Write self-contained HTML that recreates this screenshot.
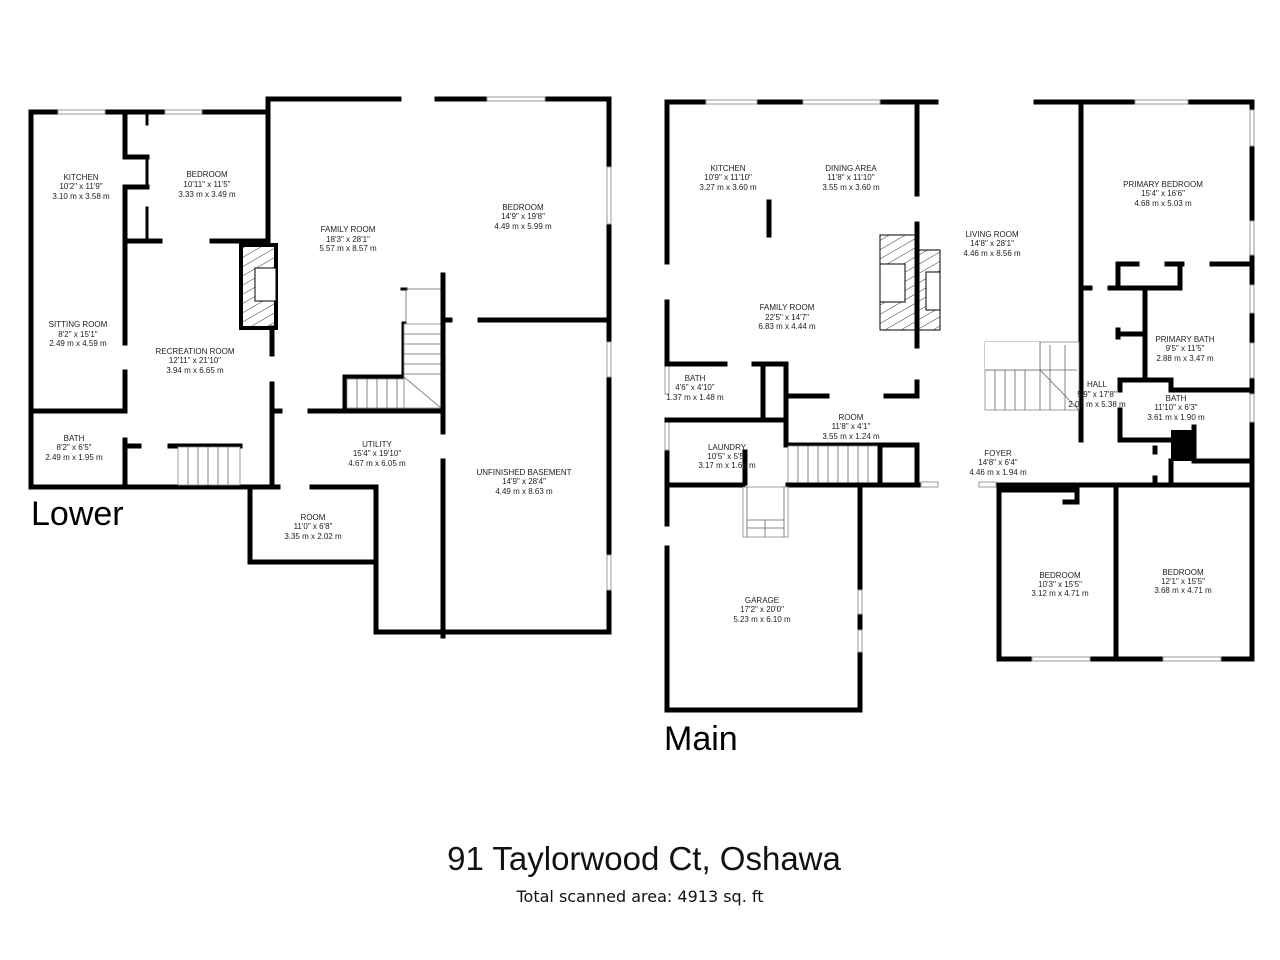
<!DOCTYPE html>
<html><head><meta charset="utf-8"><style>
html,body{margin:0;padding:0;background:#fff;}
svg{display:block}
text{font-family:"Liberation Sans",Arial,sans-serif;fill:#222;}
.l{font-size:8px;text-anchor:middle}
.w{stroke:#000;stroke-width:5;stroke-linecap:square;fill:none}
.t{stroke:#000;stroke-width:3;stroke-linecap:square;fill:none}
.g{stroke:#999;stroke-width:1;fill:#fff}
.s{stroke:#666;stroke-width:0.8;fill:none}
</style></head><body>
<svg width="1280" height="960" viewBox="0 0 1280 960" xmlns="http://www.w3.org/2000/svg">
<defs><pattern id="h" width="8" height="8" patternUnits="userSpaceOnUse" patternTransform="rotate(60)"><line x1="0" y1="0" x2="0" y2="8" stroke="#000" stroke-width="0.8"/></pattern></defs>

<!-- ===== LOWER ===== -->
<g>
<path class="w" d="M31 112 V487 H272"/>
<path class="w" d="M31 112 H58 M105 112 H165 M202 112 H268"/>
<rect class="g" x="58" y="110" width="47" height="4"/><rect class="g" x="165" y="110" width="37" height="4"/>
<path class="w" d="M268 112 V99 H399 M437 99 H487 M545 99 H609 V632 H376 V487"/>
<rect class="g" x="487" y="97" width="58" height="4"/>
<rect class="g" x="607" y="167" width="4" height="57"/><rect class="g" x="607" y="342" width="4" height="35"/><rect class="g" x="607" y="555" width="4" height="35"/>
<path class="w" d="M268 99 V241"/>
<path class="w" d="M250 487 H278 M312 487 H376"/>
<path class="w" d="M250 487 V562 H376"/>
<path class="w" d="M125 112 V157 H147"/>
<path class="t" d="M147 112 V124 M147 157 V187 M147 208 V241"/>
<path class="w" d="M125 187 H147 M125 187 V343 M125 372 V411 M125 440 V487"/>
<path class="w" d="M31 411 H125"/>
<path class="w" d="M125 241 H160 M212 241 H268"/>
<rect x="241" y="245" width="35" height="83" fill="url(#h)" stroke="#000" stroke-width="4"/>
<rect x="255" y="268" width="21" height="33" fill="#fff" stroke="#000" stroke-width="1"/>
<path class="w" d="M272 328 V354 M272 384 V450"/>
<path class="w" d="M272 411 H280 M310 411 H443"/>
<path class="w" d="M345 411 V377 H404 V324"/>
<path class="t" d="M402 289 H406"/>
<rect x="404" y="324" width="37" height="84" fill="#fff" stroke="#888" stroke-width="0.8"/>
<rect x="347" y="379" width="57" height="29" fill="#fff" stroke="#888" stroke-width="0.8"/>
<path class="s" d="M404 334H441M404 344H441M404 354H441M404 364H441M404 374H441M404 377L441 408M357 379V408M367 379V408M377 379V408M387 379V408M397 379V408"/>
<path class="s" d="M406 289 H441 M406 289 V324"/>
<path class="w" d="M443 275 V432 M443 461 V636"/>
<path class="w" d="M443 320 H450 M480 320 H608"/>
<path class="w" d="M126 446 H139 M170 446 H240"/>
<rect x="178" y="447" width="62" height="38" fill="#fff" stroke="#888" stroke-width="0.8"/>
<path class="s" d="M188 447V485M198 447V485M208 447V485M218 447V485M228 447V485"/>
<path class="w" d="M272 487 V450"/>
</g>
<g>
<text class="l" x="81" y="180">KITCHEN</text><text class="l" x="81" y="189">10'2" x 11'9"</text><text class="l" x="81" y="199">3.10 m x 3.58 m</text>
<text class="l" x="207" y="177">BEDROOM</text><text class="l" x="207" y="187">10'11" x 11'5"</text><text class="l" x="207" y="197">3.33 m x 3.49 m</text>
<text class="l" x="348" y="232">FAMILY ROOM</text><text class="l" x="348" y="242">18'3" x 28'1"</text><text class="l" x="348" y="251">5.57 m x 8.57 m</text>
<text class="l" x="523" y="210">BEDROOM</text><text class="l" x="523" y="219">14'9" x 19'8"</text><text class="l" x="523" y="229">4.49 m x 5.99 m</text>
<text class="l" x="78" y="327">SITTING ROOM</text><text class="l" x="78" y="337">8'2" x 15'1"</text><text class="l" x="78" y="346">2.49 m x 4.59 m</text>
<text class="l" x="195" y="354">RECREATION ROOM</text><text class="l" x="195" y="363">12'11" x 21'10"</text><text class="l" x="195" y="373">3.94 m x 6.65 m</text>
<text class="l" x="74" y="441">BATH</text><text class="l" x="74" y="450">8'2" x 6'5"</text><text class="l" x="74" y="460">2.49 m x 1.95 m</text>
<text class="l" x="377" y="447">UTILITY</text><text class="l" x="377" y="456">15'4" x 19'10"</text><text class="l" x="377" y="466">4.67 m x 6.05 m</text>
<text class="l" x="524" y="475">UNFINISHED BASEMENT</text><text class="l" x="524" y="484">14'9" x 28'4"</text><text class="l" x="524" y="494">4.49 m x 8.63 m</text>
<text class="l" x="313" y="520">ROOM</text><text class="l" x="313" y="529">11'0" x 6'8"</text><text class="l" x="313" y="539">3.35 m x 2.02 m</text>
<text x="31" y="525" style="font-size:34px;fill:#000">Lower</text>
</g>

<!-- ===== MAIN ===== -->
<g>
<path class="w" d="M667 102 H936 M1036 102 H1252 V659"/>
<rect class="g" x="706" y="100" width="51" height="4"/><rect class="g" x="803" y="100" width="77" height="4"/><rect class="g" x="1135" y="100" width="53" height="4"/>
<rect class="g" x="1250" y="110" width="4" height="36"/><rect class="g" x="1250" y="221" width="4" height="34"/><rect class="g" x="1250" y="285" width="4" height="28"/><rect class="g" x="1250" y="343" width="4" height="35"/><rect class="g" x="1250" y="394" width="4" height="28"/>
<path class="w" d="M667 102 V262 M667 302 V364 M667 420 V524 M667 548 V710 H860 V483"/>
<rect class="g" x="665" y="366" width="4" height="28"/><rect class="g" x="665" y="422" width="4" height="28"/>
<rect class="g" x="858" y="590" width="4" height="24"/><rect class="g" x="858" y="630" width="4" height="22"/>
<path class="w" d="M917 102 V194 M917 224 V346 M917 382 V394"/>
<rect x="880" y="235" width="35" height="95" fill="url(#h)" stroke="#000" stroke-width="1"/>
<rect x="880" y="264" width="25" height="38" fill="#fff" stroke="#000" stroke-width="1"/>
<rect x="919" y="250" width="21" height="80" fill="url(#h)" stroke="#000" stroke-width="1"/>
<rect x="926" y="272" width="14" height="38" fill="#fff" stroke="#000" stroke-width="1"/>
<path class="w" d="M917 235 V330"/>
<path class="w" d="M769 202 V235"/>
<path class="w" d="M1081 102 V440"/>
<path class="w" d="M1118 264 H1137 M1167 264 H1182 M1212 264 H1252"/>
<path class="w" d="M1118 264 V288 H1180 V264 M1081 288 H1090 M1110 288 H1118"/>
<path class="w" d="M1145 288 V380 M1118 334 H1145 M1118 330 V337"/>
<path class="w" d="M1120 380 V390 M1120 410 V440 H1194 M1120 380 H1171 V390 H1252"/>
<rect x="1171" y="430" width="25" height="31" fill="#000"/>
<path class="w" d="M1194 427 V461 H1252 M1171 461 V483"/>
<path class="w" d="M1155 448 V452 M1155 478 V483"/>
<path class="w" d="M667 364 H725 M754 364 H786 V445 M763 364 V420 M667 420 H786"/>
<path class="w" d="M786 396 H827 M886 396 H917 M786 445 H917 V483"/>
<rect x="788" y="446" width="92" height="37" fill="#fff" stroke="#888" stroke-width="0.8"/>
<path class="s" d="M798 446V483M808 446V483M818 446V483M828 446V483M838 446V483M848 446V483M858 446V483M868 446V483"/>
<path class="w" d="M880 445 V483"/>
<path class="w" d="M745 452 V483"/>
<path class="w" d="M667 485 H743 M788 485 H921 M1000 485 H1252"/>
<rect class="g" x="921" y="482" width="17" height="5"/><rect class="g" x="979" y="482" width="17" height="5"/>
<rect x="743" y="487" width="45" height="50" fill="#fff" stroke="#888" stroke-width="0.8"/>
<path class="s" d="M747 487V520H784V487M747 528H784M747 520V537M784 520V537M765 520V537"/>
<rect x="985" y="342" width="94" height="68" fill="#fff" stroke="#888" stroke-width="0.8"/>
<path class="s" d="M1040 342V410M985 370H1040M988 345V370H1077M1050 345V410M1065 345V410M995 370V410M1005 370V410M1015 370V410M1025 370V410M1040 370L1079 410"/>
<rect x="985" y="342" width="55" height="28" fill="#fff" stroke="none"/>
<path class="s" d="M985 370H1040V342"/>
<path class="w" d="M999 485 V659 H1032 M1090 659 H1163 M1221 659 H1252 M1116 485 V659"/>
<rect class="g" x="1032" y="657" width="58" height="4"/><rect class="g" x="1163" y="657" width="58" height="4"/>
<path class="w" d="M999 490 H1077 V502 H1065"/>
</g>
<g>
<text class="l" x="728" y="171">KITCHEN</text><text class="l" x="728" y="180">10'9" x 11'10"</text><text class="l" x="728" y="190">3.27 m x 3.60 m</text>
<text class="l" x="851" y="171">DINING AREA</text><text class="l" x="851" y="180">11'8" x 11'10"</text><text class="l" x="851" y="190">3.55 m x 3.60 m</text>
<text class="l" x="787" y="310">FAMILY ROOM</text><text class="l" x="787" y="320">22'5" x 14'7"</text><text class="l" x="787" y="329">6.83 m x 4.44 m</text>
<text class="l" x="992" y="237">LIVING ROOM</text><text class="l" x="992" y="246">14'8" x 28'1"</text><text class="l" x="992" y="256">4.46 m x 8.56 m</text>
<text class="l" x="1163" y="187">PRIMARY BEDROOM</text><text class="l" x="1163" y="196">15'4" x 16'6"</text><text class="l" x="1163" y="206">4.68 m x 5.03 m</text>
<text class="l" x="1185" y="342">PRIMARY BATH</text><text class="l" x="1185" y="351">9'5" x 11'5"</text><text class="l" x="1185" y="361">2.88 m x 3.47 m</text>
<text class="l" x="1097" y="387">HALL</text><text class="l" x="1097" y="397">5'9" x 17'8"</text><text class="l" x="1097" y="407">2.07 m x 5.38 m</text>
<text class="l" x="1176" y="401">BATH</text><text class="l" x="1176" y="410">11'10" x 6'3"</text><text class="l" x="1176" y="420">3.61 m x 1.90 m</text>
<text class="l" x="695" y="381">BATH</text><text class="l" x="695" y="390">4'6" x 4'10"</text><text class="l" x="695" y="400">1.37 m x 1.48 m</text>
<text class="l" x="851" y="420">ROOM</text><text class="l" x="851" y="429">11'8" x 4'1"</text><text class="l" x="851" y="439">3.55 m x 1.24 m</text>
<text class="l" x="727" y="450">LAUNDRY</text><text class="l" x="727" y="459">10'5" x 5'5"</text><text class="l" x="727" y="468">3.17 m x 1.66 m</text>
<text class="l" x="998" y="456">FOYER</text><text class="l" x="998" y="465">14'8" x 6'4"</text><text class="l" x="998" y="475">4.46 m x 1.94 m</text>
<text class="l" x="1060" y="578">BEDROOM</text><text class="l" x="1060" y="587">10'3" x 15'5"</text><text class="l" x="1060" y="596">3.12 m x 4.71 m</text>
<text class="l" x="1183" y="575">BEDROOM</text><text class="l" x="1183" y="584">12'1" x 15'5"</text><text class="l" x="1183" y="593">3.68 m x 4.71 m</text>
<text class="l" x="762" y="603">GARAGE</text><text class="l" x="762" y="612">17'2" x 20'0"</text><text class="l" x="762" y="622">5.23 m x 6.10 m</text>
<text x="664" y="750" style="font-size:34px;fill:#000">Main</text>
</g>

<text x="644" y="870" style="font-size:33px;text-anchor:middle;fill:#111">91 Taylorwood Ct, Oshawa</text>
<text x="640" y="902" style="font-size:16px;text-anchor:middle;font-family:'DejaVu Sans',sans-serif;fill:#111">Total scanned area: 4913 sq. ft</text>
</svg>
</body></html>
